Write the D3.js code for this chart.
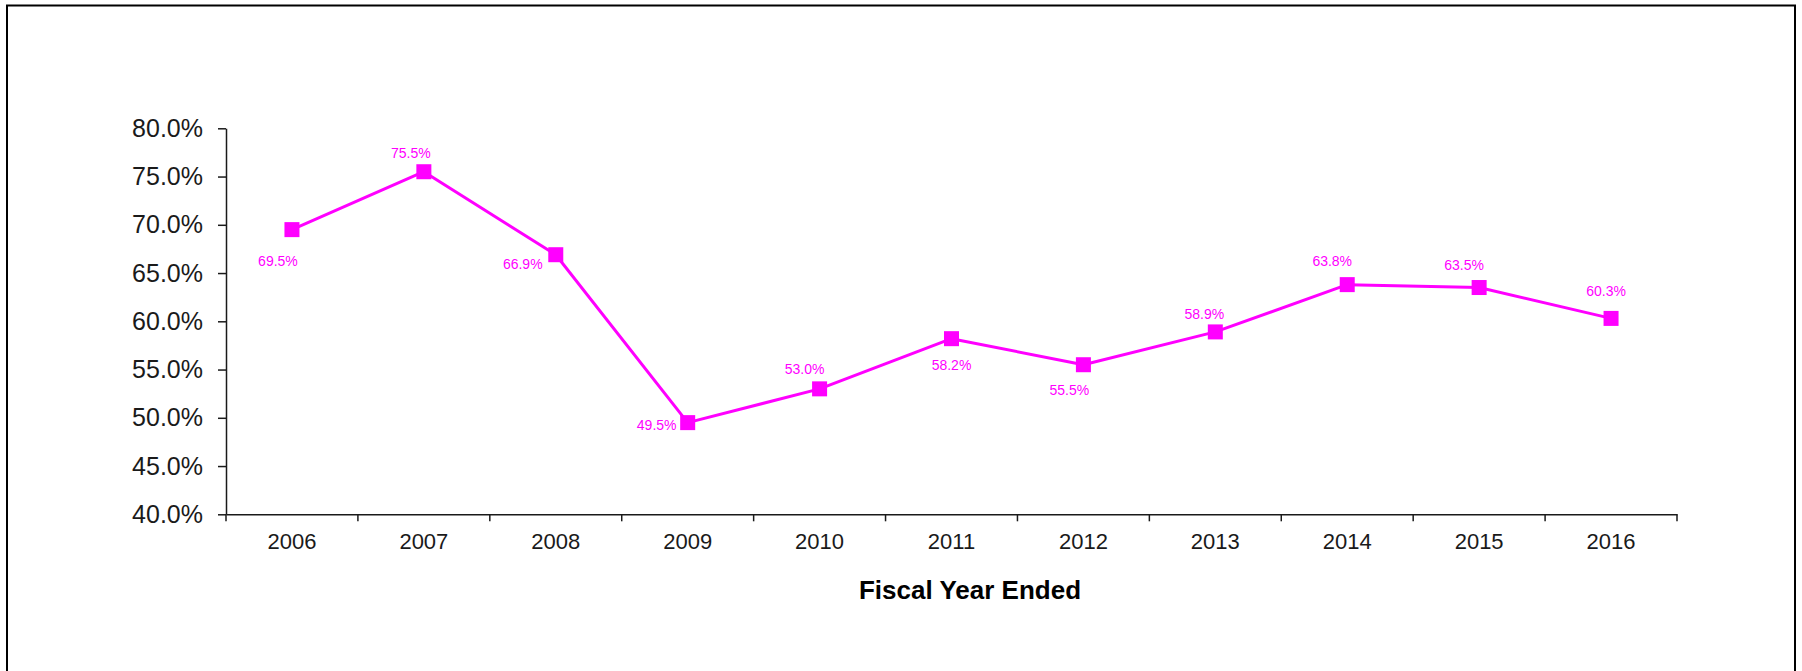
<!DOCTYPE html>
<html>
<head>
<meta charset="utf-8">
<script src="https://cdn.jsdelivr.net/npm/d3@7"></script>
<style>
  html, body { margin: 0; padding: 0; background: #fff; }
  svg { display: block; }
  text { font-family: "Liberation Sans", Arial, sans-serif; }
</style>
</head>
<body>
<svg id="chart" width="1802" height="671"></svg>
<script>
// Fiscal years and ratio per year
const years = ["2006", "2007", "2008", "2009", "2010", "2011", "2012", "2013", "2014", "2015", "2016"];
const ratios = [0.695, 0.755, 0.669, 0.495, 0.530, 0.582, 0.555, 0.589, 0.638, 0.635, 0.603];
const yTicks = [0.40, 0.45, 0.50, 0.55, 0.60, 0.65, 0.70, 0.75, 0.80];
const xTitle = "Fiscal Year Ended";

// Where each value label sits relative to its marker (pixels)
const labelOffsets = [
  [-14, 31], [-13, -19], [-33, 9], [-31, 2], [-15, -20], [0, 26],
  [-14, 25], [-11, -18], [-15, -24], [-15, -22], [-5, -27]
];

const svg = d3.select("#chart");
const W = 1802, H = 671;
const plot = { left: 226, right: 1677, top: 128.3, bottom: 514.3 };
const magenta = "#ff00ff";
const ink = "#1a1a1a";

// Outer frame (open at the bottom edge of the page)
svg.append("rect")
  .attr("x", 7).attr("y", 5.5)
  .attr("width", 1788).attr("height", H + 20)
  .attr("fill", "none").attr("stroke", "#000").attr("stroke-width", 2);

const x = d3.scaleBand().domain(years).range([plot.left, plot.right]).padding(0);
const y = d3.scaleLinear().domain([0.40, 0.80]).range([plot.bottom, plot.top]);

// Y axis
const yAxis = d3.axisLeft(y)
  .tickValues(yTicks)
  .tickFormat(d3.format(".1%"))
  .tickSize(8)
  .tickSizeOuter(0)
  .tickPadding(15);
const gy = svg.append("g").attr("transform", `translate(${plot.left},0)`).call(yAxis);
gy.select(".domain").attr("stroke", ink).attr("stroke-width", 1.5);
gy.selectAll(".tick line").attr("stroke", ink).attr("stroke-width", 1.5);
gy.selectAll(".tick text").attr("fill", ink).attr("font-size", 25)
  .attr("font-family", "'Liberation Sans', Arial, sans-serif");

// X axis: labels centred in each band, ticks on band boundaries
const xAxis = d3.axisBottom(x).tickSize(0).tickSizeOuter(0).tickPadding(19);
const gx = svg.append("g").attr("transform", `translate(0,${plot.bottom})`).call(xAxis);
gx.select(".domain").attr("stroke", ink).attr("stroke-width", 1.5);
gx.selectAll(".tick text").attr("fill", ink).attr("font-size", 22)
  .attr("font-family", "'Liberation Sans', Arial, sans-serif");
const boundaries = years.map(d => x(d)).concat([x(years[years.length - 1]) + x.bandwidth()]);
gx.selectAll("line.bound")
  .data(boundaries)
  .join("line")
  .attr("class", "bound")
  .attr("x1", d => d).attr("x2", d => d)
  .attr("y1", 0).attr("y2", 7)
  .attr("stroke", ink).attr("stroke-width", 1.5);

// Axis title
svg.append("text")
  .attr("x", 970).attr("y", 599)
  .attr("text-anchor", "middle")
  .attr("font-size", 26).attr("font-weight", "bold")
  .attr("fill", "#000")
  .text(xTitle);

// Series line
const cx = (d, i) => x(years[i]) + x.bandwidth() / 2;
const line = d3.line().x((d, i) => cx(d, i)).y(d => y(d));
svg.append("path")
  .datum(ratios)
  .attr("d", line)
  .attr("fill", "none")
  .attr("stroke", magenta)
  .attr("stroke-width", 3)
  .attr("stroke-linejoin", "round");

// Square markers
const m = 15;
svg.selectAll("rect.marker")
  .data(ratios)
  .join("rect")
  .attr("class", "marker")
  .attr("x", (d, i) => cx(d, i) - m / 2)
  .attr("y", d => y(d) - m / 2)
  .attr("width", m).attr("height", m)
  .attr("fill", magenta);

// Value labels
svg.selectAll("text.value")
  .data(ratios)
  .join("text")
  .attr("class", "value")
  .attr("x", (d, i) => cx(d, i) + labelOffsets[i][0])
  .attr("y", (d, i) => y(d) + labelOffsets[i][1])
  .attr("dy", "0.35em")
  .attr("text-anchor", "middle")
  .attr("font-size", 14)
  .attr("fill", magenta)
  .text(d => d3.format(".1%")(d));
</script>
</body>
</html>
